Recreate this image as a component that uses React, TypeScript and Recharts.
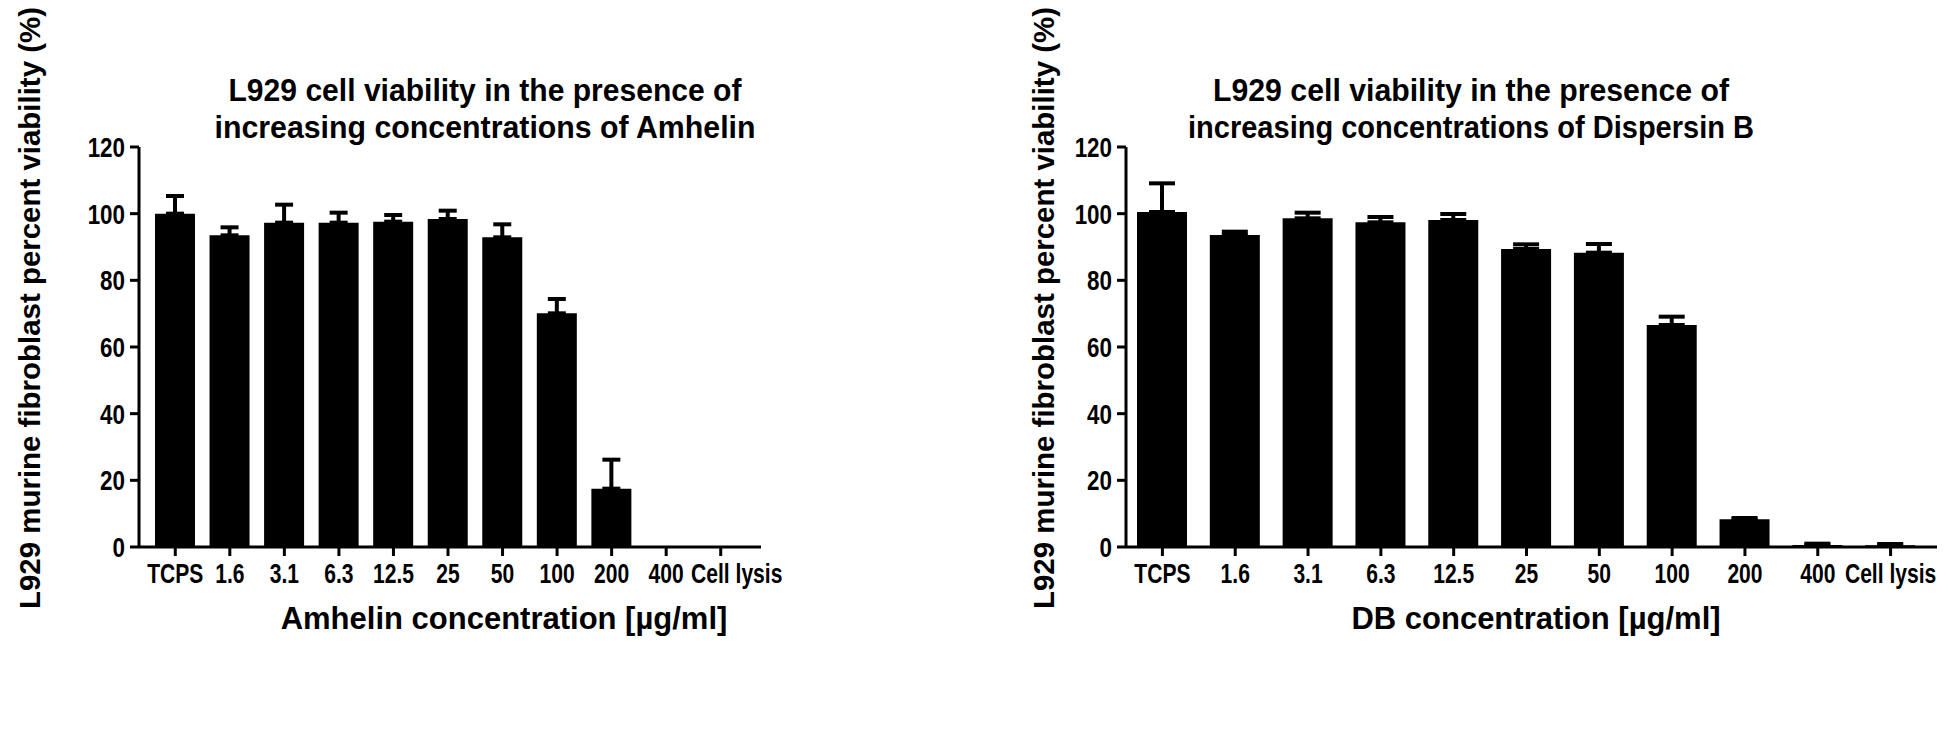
import React from 'react';
import { BarChart, Bar, XAxis, YAxis, ErrorBar } from 'recharts';

const categories = ['TCPS', '1.6', '3.1', '6.3', '12.5', '25', '50', '100', '200', '400', 'Cell lysis'];
const amhelinMean = [100, 93.5, 97.3, 97.3, 97.6, 98.4, 92.9, 70.1, 17.5, 0, 0];
const amhelinSd = [5.3, 2.4, 5.4, 3.0, 2.0, 2.5, 3.9, 4.3, 8.7, 0, 0];
const dbMean = [100.5, 93.6, 98.6, 97.4, 98.1, 89.4, 88.3, 66.6, 8.3, 0.6, 0.5];
const dbSd = [8.6, 1.0, 1.7, 1.6, 1.8, 1.4, 2.6, 2.5, 0.4, 0.4, 0.4];
const yTicks = [0, 20, 40, 60, 80, 100, 120];

const titleLine1 = 'L929 cell viability in the presence of';
const titleLeft2 = 'increasing concentrations of Amhelin';
const titleRight2 = 'increasing concentrations of Dispersin B';
const yLabel = 'L929 murine fibroblast percent viability (%)';
const xLabelLeft = 'Amhelin concentration [µg/ml]';
const xLabelRight = 'DB concentration [µg/ml]';

const FONT = '"Liberation Sans", Arial, sans-serif';

const amhelinData = categories.map((c, i) => ({ name: c, value: amhelinMean[i], err: [0, amhelinSd[i]] }));
const dbData = categories.map((c, i) => ({ name: c, value: dbMean[i], err: [0, dbSd[i]] }));

const XTick = (props: any) => {
  const { x, y, payload, lastShift = 0 } = props;
  const shift = payload.value === 'Cell lysis' ? lastShift : 0;
  return (
    <text
      transform={`translate(${x + shift},${y}) scale(0.78,1)`}
      dy="0.74em"
      textAnchor="middle"
      fontFamily={FONT}
      fontSize={27}
      fontWeight="bold"
      fill="#000"
    >
      {payload.value}
    </text>
  );
};

const YTick = (props: any) => {
  const { x, y, payload } = props;
  return (
    <text
      transform={`translate(${x},${y}) scale(0.8,1)`}
      dy="0.36em"
      textAnchor="end"
      fontFamily={FONT}
      fontSize={28}
      fontWeight="bold"
      fill="#000"
    >
      {payload.value}
    </text>
  );
};

type PanelProps = {
  data: any[];
  width: number;
  marginLeft: number;
  marginRight: number;
  padLeft: number;
  padRight: number;
  barSize: number;
  capHalf: number;
  lastShift: number;
  titleX: number;
  title1Len: number;
  title2: string;
  title2Len: number;
  xLabel: string;
  xLabelX: number;
  yLabelX: number;
};

const Panel = ({
  data,
  width,
  marginLeft,
  marginRight,
  padLeft,
  padRight,
  barSize,
  capHalf,
  lastShift,
  titleX,
  title1Len,
  title2,
  title2Len,
  xLabel,
  xLabelX,
  yLabelX,
}: PanelProps) => (
  <div style={{ position: 'relative', width, height: 736, flex: 'none' }}>
    <BarChart
      width={width}
      height={736}
      data={data}
      margin={{ top: 147, right: marginRight, bottom: 149, left: marginLeft }}
      barCategoryGap={0}
    >
      <XAxis
        dataKey="name"
        interval={0}
        height={40}
        tickSize={9}
        tickMargin={7}
        padding={{ left: padLeft, right: padRight }}
        axisLine={{ stroke: '#000', strokeWidth: 3 }}
        tickLine={{ stroke: '#000', strokeWidth: 3 }}
        tick={<XTick lastShift={lastShift} />}
      />
      <YAxis
        domain={[0, 120]}
        ticks={yTicks}
        width={60}
        tickSize={9}
        tickMargin={5}
        axisLine={{ stroke: '#000', strokeWidth: 3 }}
        tickLine={{ stroke: '#000', strokeWidth: 3 }}
        tick={<YTick />}
      />
      <Bar dataKey="value" fill="#000" barSize={barSize} isAnimationActive={false}>
        <ErrorBar dataKey="err" direction="y" width={capHalf} stroke="#000" strokeWidth={4} />
      </Bar>
    </BarChart>
    <svg width={width} height={736} style={{ position: 'absolute', left: 0, top: 0, pointerEvents: 'none' }}>
      <text x={titleX} y={101} textAnchor="middle" fontFamily={FONT} fontSize={32} fontWeight="bold" textLength={title1Len} lengthAdjust="spacingAndGlyphs">
        {titleLine1}
      </text>
      <text x={titleX} y={138} textAnchor="middle" fontFamily={FONT} fontSize={32} fontWeight="bold" textLength={title2Len} lengthAdjust="spacingAndGlyphs">
        {title2}
      </text>
      <text
        x={yLabelX}
        y={308}
        transform={`rotate(-90 ${yLabelX} 308)`}
        textAnchor="middle"
        fontFamily={FONT}
        fontSize={29}
        fontWeight="bold"
        textLength={602}
        lengthAdjust="spacingAndGlyphs"
      >
        {yLabel}
      </text>
      <text x={xLabelX} y={629} textAnchor="middle" fontFamily={FONT} fontSize={31} fontWeight="bold">
        {xLabel}
      </text>
    </svg>
  </div>
);

export default function App() {
  return (
    <div style={{ display: 'flex', width: 1950, height: 736, background: '#fff' }}>
      <style>{`body{margin:0;background:#fff;}`}</style>
      <Panel
        data={amhelinData}
        width={984}
        marginLeft={79}
        marginRight={223}
        padLeft={9}
        padRight={13}
        barSize={40}
        capHalf={9}
        lastShift={16}
        titleX={485}
        title1Len={513}
        title2={titleLeft2}
        title2Len={541}
        xLabel={xLabelLeft}
        xLabelX={504}
        yLabelX={40}
      />
      <Panel
        data={dbData}
        width={966}
        marginLeft={82}
        marginRight={13}
        padLeft={0}
        padRight={10}
        barSize={50}
        capHalf={13}
        lastShift={0}
        titleX={487}
        title1Len={516}
        title2={titleRight2}
        title2Len={566}
        xLabel={xLabelRight}
        xLabelX={552}
        yLabelX={70}
      />
    </div>
  );
}
